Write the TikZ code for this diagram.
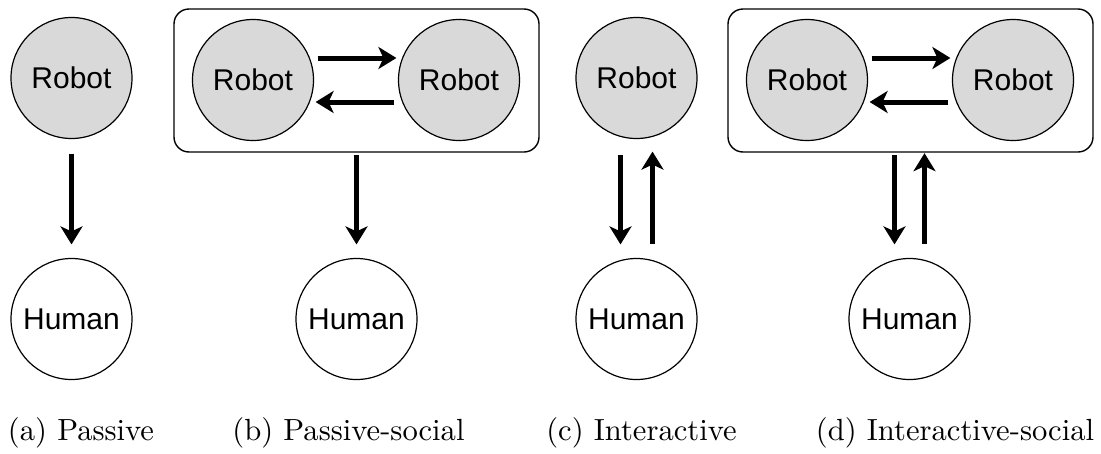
\documentclass[tikz,border=0pt]{standalone}
\usepackage{fontspec}
\setmainfont{lmroman10-regular.otf}
\newfontfamily\helvfont{Liberation Sans}
\usetikzlibrary{arrows.meta,calc}

\begin{document}
\begin{tikzpicture}[x=1pt, y=1pt,
    robot/.style={circle, draw, line width=1.2pt, fill=black!15, minimum size=121pt, inner sep=0pt,
      font=\helvfont\fontsize{30}{36}\selectfont},
    human/.style={robot, fill=white},
    group/.style={draw, line width=1.4pt, rounded corners=15pt, minimum width=365pt, minimum height=143pt},
    flow/.style={line width=5pt, -{Stealth[length=18pt, width=22pt, inset=5pt]}},
    caption/.style={anchor=base, font=\fontsize{30.6}{36}\selectfont}]
  \useasboundingbox (0,0) rectangle (1101,-453);
  % (a) passive
  \node[robot] (ra) at (71.5,-78) {Robot};
  \node[human] (ha) at (71.5,-319) {Human};
  \draw[flow, shorten <=15pt, shorten >=13.5pt] (ra) -- (ha);
  \node[caption] (capa) at (81,-440) {(a) Passive};
  % (b) passive-social
  \node[group] (boxb) at (356.5,-80.5) {};
  \node[robot] (rb1) at (253,-80) {Robot};
  \node[robot] (rb2) at (459,-80) {Robot};
  \node[human] (hb) at (356.5,-319) {Human};
  \draw[flow, shorten <=3.5pt, shorten >=1.5pt] ([yshift=22pt]rb1.east) -- ([yshift=22pt]rb2.west);
  \draw[flow, shorten <=3.5pt, shorten >=1.5pt] ([yshift=-22pt]rb2.west) -- ([yshift=-22pt]rb1.east);
  \draw[flow, shorten <=2pt, shorten >=13.5pt] (boxb) -- (hb);
  \node[caption] (capb) at (348.5,-440) {(b) Passive-social};
  % (c) interactive
  \node[robot] (rc) at (636.5,-78) {Robot};
  \node[human] (hc) at (636.5,-319) {Human};
  \draw[flow, shorten <=15.5pt, shorten >=13.5pt] ([xshift=-16pt]rc.south) -- ([xshift=-16pt]hc.north);
  \draw[flow, shorten <=14pt, shorten >=12.5pt] ([xshift=16pt]hc.north) -- ([xshift=16pt]rc.south);
  \node[caption] (capc) at (641.5,-440) {(c) Interactive};
  % (d) interactive-social
  \node[group] (boxd) at (910.5,-80.5) {};
  \node[robot] (rd1) at (807,-80) {Robot};
  \node[robot] (rd2) at (1013,-80) {Robot};
  \node[human] (hd) at (909.5,-319) {Human};
  \draw[flow, shorten <=3.5pt, shorten >=1.5pt] ([yshift=22pt]rd1.east) -- ([yshift=22pt]rd2.west);
  \draw[flow, shorten <=3.5pt, shorten >=1.5pt] ([yshift=-22pt]rd2.west) -- ([yshift=-22pt]rd1.east);
  \draw[flow, shorten <=2pt, shorten >=13.5pt] ($(hd.north |- boxd.south)+(-15,0)$) -- ([xshift=-15pt]hd.north);
  \draw[flow, shorten <=14pt, shorten >=0.5pt] ([xshift=15pt]hd.north) -- ($(hd.north |- boxd.south)+(15,0)$);
  \node[caption] (capd) at (955,-440) {(d) Interactive-social};
\end{tikzpicture}
\end{document}
